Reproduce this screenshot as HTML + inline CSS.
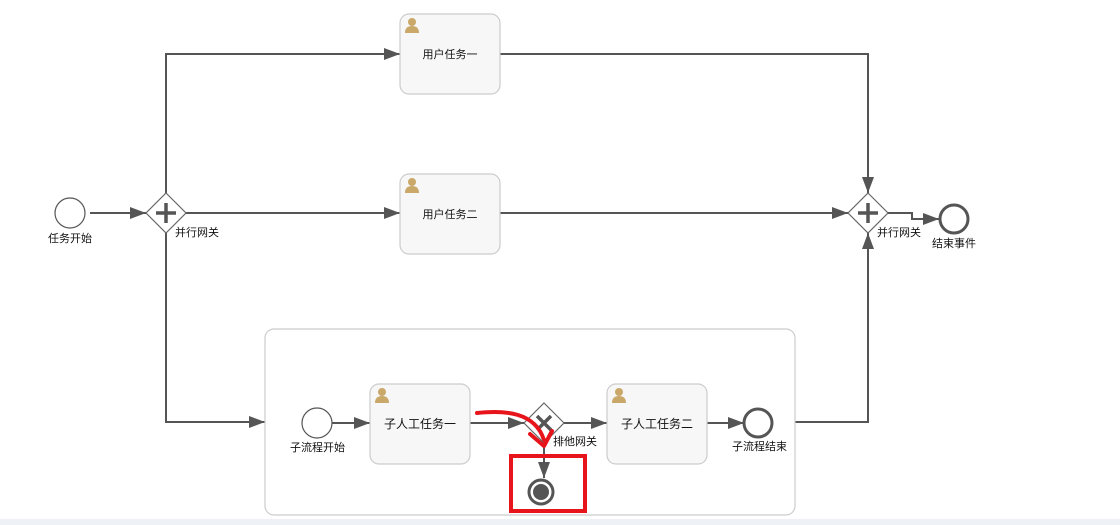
<!DOCTYPE html>
<html><head><meta charset="utf-8"><style>
html,body{margin:0;padding:0;background:#fff;width:1120px;height:525px;overflow:hidden}
text{font-family:"Liberation Sans","Noto Sans CJK SC",sans-serif;font-size:11px;fill:#111}
</style></head><body>
<svg width="1120" height="525" viewBox="0 0 1120 525" xmlns="http://www.w3.org/2000/svg">
<defs>
<marker id="a" markerWidth="10" markerHeight="10" refX="9" refY="5" orient="auto" markerUnits="userSpaceOnUse">
<path d="M0,0 L10,5 L0,10 z" fill="#555" transform="scale(1.6) translate(-4,-1.9)"/>
</marker>
<marker id="b" viewBox="0 0 16 12" markerWidth="16" markerHeight="12" refX="16" refY="6" orient="auto" markerUnits="userSpaceOnUse">
<path d="M0,0 L16,6 L0,12 z" fill="#555"/>
</marker>
<symbol id="u" viewBox="0 0 16 16"><circle cx="8" cy="5" r="4" fill="#c9a86a"/><path d="M1,16 Q1,9 8,9 Q15,9 15,16z" fill="#c9a86a"/></symbol>
</defs>
<rect x="0" y="519" width="1120" height="6" fill="#eef1f5"/>
<g fill="none" stroke="#555" stroke-width="2">
<path d="M90,213 H146" marker-end="url(#b)"/>
<path d="M166,193 V54 H400" marker-end="url(#b)"/>
<path d="M186,213 H400" marker-end="url(#b)"/>
<path d="M166,233 V422 H265" marker-end="url(#b)"/>
<path d="M500,54 H868 V193" marker-end="url(#b)"/>
<path d="M500,213 H848" marker-end="url(#b)"/>
<path d="M795,422 H868 V233" marker-end="url(#b)"/>
<path d="M888,213 H912 V219 H939" marker-end="url(#b)"/>
<path d="M332,423 H370" marker-end="url(#b)"/>
<path d="M470,423 H524" marker-end="url(#b)"/>
<path d="M564,423 H607" marker-end="url(#b)"/>
<path d="M707,423 H744" marker-end="url(#b)"/>
<path d="M544,443 V478" marker-end="url(#b)"/>
</g>
<circle cx="70" cy="213" r="15" fill="#fff" stroke="#555" stroke-width="1.2"/>
<text x="48" y="242">任务开始</text>
<g stroke="#666" fill="#fff" stroke-width="1.2">
<path d="M166,193 L186,213 L166,233 L146,213z"/>
<path d="M868,193 L888,213 L868,233 L848,213z"/>
<path d="M544,403 L564,423 L544,443 L524,423z"/>
</g>
<g stroke="#555" stroke-width="3.5">
<path d="M166,203 V223 M156,213 H176"/>
<path d="M868,203 V223 M858,213 H878"/>
<path d="M537,416 L551,430 M551,416 L537,430"/>
</g>
<text x="175" y="236">并行网关</text>
<text x="877" y="236">并行网关</text>
<circle cx="954" cy="219" r="14" fill="#fff" stroke="#555" stroke-width="3"/>
<text x="932" y="247">结束事件</text>
<g fill="#f7f7f7" stroke="#ccc" stroke-width="1.2">
<rect x="400" y="14" width="100" height="80" rx="9"/>
<rect x="400" y="174" width="100" height="80" rx="9"/>
<rect x="370" y="384" width="100" height="80" rx="9"/>
<rect x="607" y="384" width="100" height="80" rx="9"/>
</g>
<rect x="265" y="329" width="530" height="186" rx="9" fill="none" stroke="#ccc" stroke-width="1.2"/>
<use href="#u" x="404" y="17" width="16" height="16"/>
<use href="#u" x="404" y="177" width="16" height="16"/>
<use href="#u" x="374" y="387" width="16" height="16"/>
<use href="#u" x="611" y="387" width="16" height="16"/>
<text x="450" y="58" text-anchor="middle">用户任务一</text>
<text x="450" y="218" text-anchor="middle">用户任务二</text>
<text x="420" y="428" text-anchor="middle" style="font-size:12px">子人工任务一</text>
<text x="657" y="428" text-anchor="middle" style="font-size:12px">子人工任务二</text>
<circle cx="317" cy="423" r="15" fill="#fff" stroke="#555" stroke-width="1.2"/>
<text x="290" y="451">子流程开始</text>
<circle cx="758" cy="423" r="14" fill="#fff" stroke="#555" stroke-width="3"/>
<text x="732" y="450">子流程结束</text>
<text x="553" y="445">排他网关</text>
<circle cx="541" cy="492" r="12" fill="#fff" stroke="#555" stroke-width="3"/>
<circle cx="541" cy="492" r="8" fill="#555"/>
<rect x="511" y="456" width="74" height="55" fill="none" stroke="#e8141c" stroke-width="4"/>
<path d="M477,413 C505,410 535,412 544,440" fill="none" stroke="#e8141c" stroke-width="4" stroke-linecap="round"/>
<path d="M530,434 L544,446 L552,431" fill="none" stroke="#e8141c" stroke-width="4" stroke-linecap="round" stroke-linejoin="round"/>
</svg>
</body></html>
